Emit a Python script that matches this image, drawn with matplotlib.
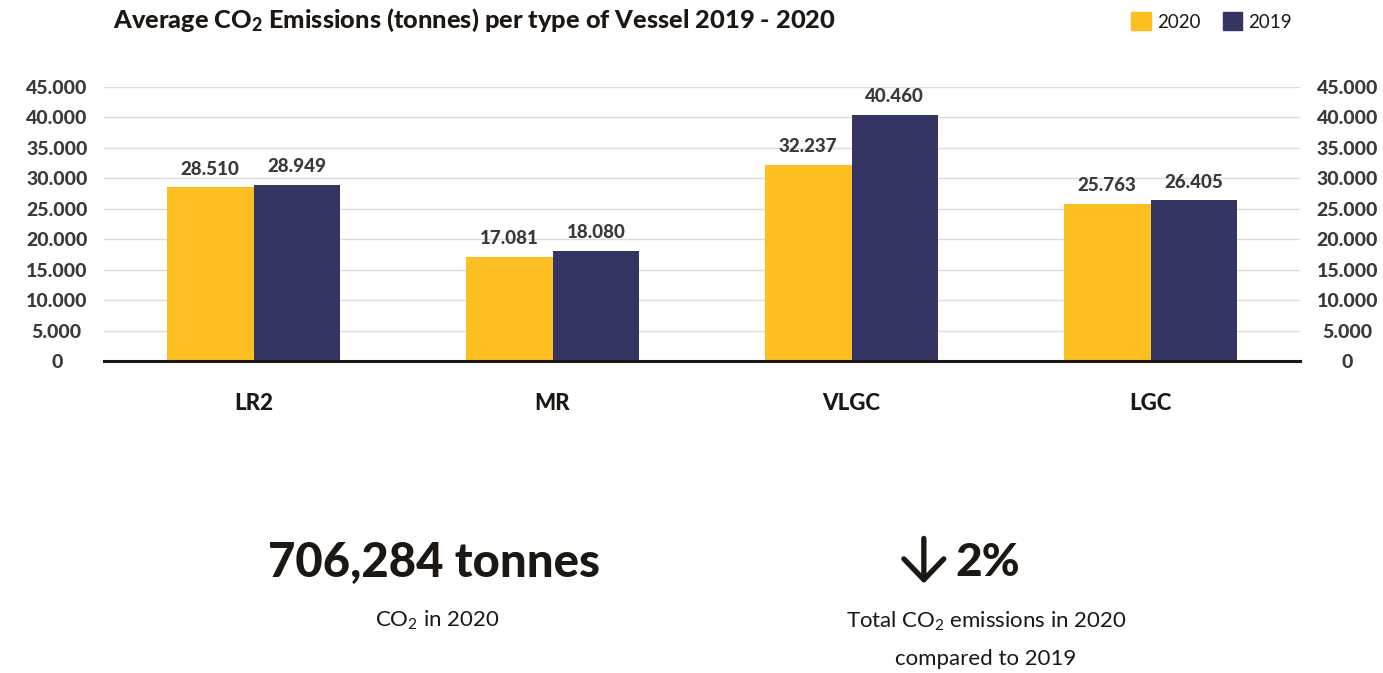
import matplotlib.pyplot as plt
import numpy as np

# Average CO2 emissions (tonnes) per vessel type
vessels = ['LR2', 'MR', 'VLGC', 'LGC']
emissions_2020 = [28510, 17081, 32237, 25763]
emissions_2019 = [28949, 18080, 40460, 26405]
y_ticks = [0, 5000, 10000, 15000, 20000, 25000, 30000, 35000, 40000, 45000]

YELLOW = '#fdbf22'
NAVY = '#343563'
INK = '#1c1712'
GREY_TXT = '#3b3a36'

plt.rcParams['font.family'] = ['Lato', 'DejaVu Sans']
plt.rcParams['mathtext.default'] = 'regular'


def thousands(v):
    return f'{v:,.0f}'.replace(',', '.')


fig = plt.figure(figsize=(13.83, 6.73), dpi=100)
ax = fig.add_axes([0.0752, 0.4636, 0.8648, 0.4071])

x = np.arange(len(vessels))
width = 0.29
bars20 = ax.bar(x - width / 2, emissions_2020, width, color=YELLOW, zorder=3)
bars19 = ax.bar(x + width / 2, emissions_2019, width, color=NAVY, zorder=3)

for bars, vals in ((bars20, emissions_2020), (bars19, emissions_2019)):
    for b, v in zip(bars, vals):
        ax.annotate(thousands(v), (b.get_x() + b.get_width() / 2, v),
                    xytext=(0, 7), textcoords='offset points',
                    ha='center', va='bottom', fontsize=13.5,
                    fontweight='black', color=GREY_TXT)

ax.set_xlim(-0.5, len(vessels) - 0.5)
ax.set_ylim(0, 45000)
ax.set_yticks(y_ticks)
ax.set_yticklabels([thousands(t) for t in y_ticks])
ax.set_xticks(x)
ax.set_xticklabels(vessels, fontsize=16, fontweight='black', color=INK)

ax.grid(axis='y', color='#dcdcdc', lw=1, zorder=0)
for s in ('left', 'right', 'top'):
    ax.spines[s].set_visible(False)
ax.spines['bottom'].set_color(INK)
ax.spines['bottom'].set_linewidth(2.2)
ax.spines['bottom'].set_zorder(4)

ax.tick_params(axis='x', length=0, pad=23)
ax.tick_params(axis='y', length=0, labelsize=14, labelcolor=GREY_TXT,
               labelright=True)
for t in ax.yaxis.get_major_ticks():
    t.set_pad(34)
    for lab in (t.label1, t.label2):
        lab.set_fontweight('black')
        lab.set_horizontalalignment('center')
        lab.set_color(GREY_TXT)

# Title
fig.text(0.0817, 0.97, 'Average CO$_2$ Emissions (tonnes) per type of Vessel 2019 - 2020',
         fontsize=18.3, fontweight='black', color=INK, va='center', ha='left')

# Legend
handles = [plt.Rectangle((0, 0), 1, 1, color=YELLOW),
           plt.Rectangle((0, 0), 1, 1, color=NAVY)]
fig.legend(handles, ['2020', '2019'], loc='center right',
           bbox_to_anchor=(0.934, 0.968), ncol=2, frameon=False,
           borderpad=0, borderaxespad=0,
           fontsize=13.5, handlelength=1.05, handleheight=1.05,
           handletextpad=0.3, columnspacing=1.2, labelcolor=INK)

# Summary figures below the chart
fig.text(0.3135, 0.164, '706,284 tonnes', fontsize=34, fontweight='black',
         color=INK, ha='center', va='center')
fig.text(0.316, 0.078, 'CO$_2$ in 2020', fontsize=16, color=INK,
         ha='center', va='center')

fig.add_artist(plt.Annotation('', xy=(0.668, 0.133), xytext=(0.668, 0.2),
                              xycoords='figure fraction',
                              arrowprops=dict(arrowstyle='->,head_length=0.75,head_width=0.72',
                                              lw=3.8, color=INK, mutation_scale=20,
                                              shrinkA=0, shrinkB=0)))
fig.text(0.6905, 0.164, '2%', fontsize=33, fontweight='black',
         color=INK, ha='left', va='center')
fig.text(0.713, 0.077, 'Total CO$_2$ emissions in 2020', fontsize=16, color=INK,
         ha='center', va='center')
fig.text(0.713, 0.021, 'compared to 2019', fontsize=16, color=INK,
         ha='center', va='center')

fig.savefig('out.png', dpi=100, facecolor='white')
